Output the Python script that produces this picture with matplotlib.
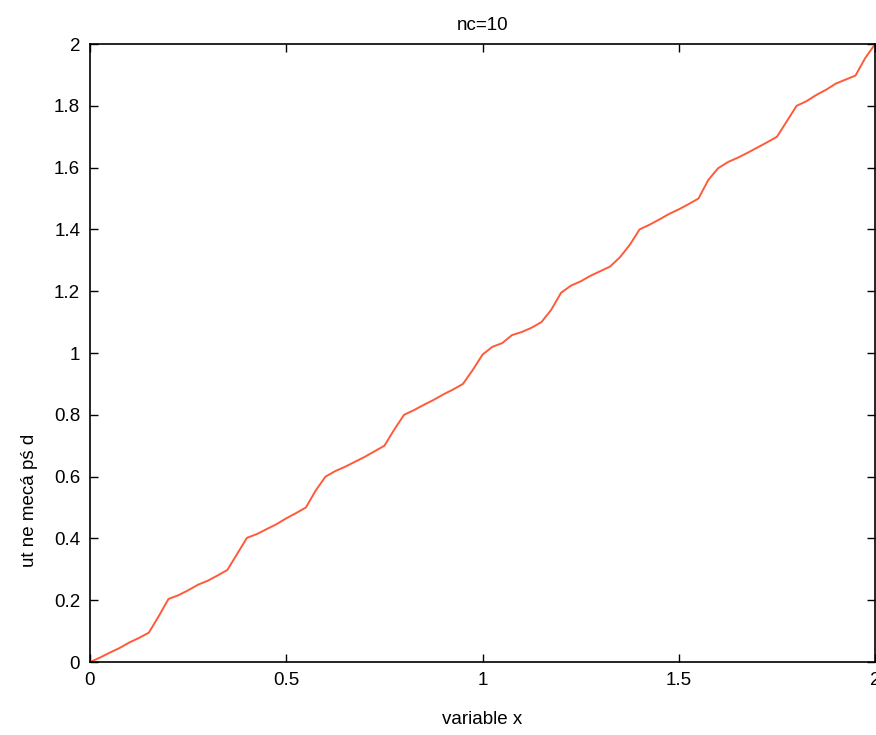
import numpy as np
import matplotlib.pyplot as plt

# values
x_vals = [0.000, 0.025, 0.050, 0.075, 0.100, 0.125, 0.150, 0.175, 0.200,
          0.225, 0.250, 0.275, 0.300, 0.325, 0.350, 0.375, 0.400,
          0.425, 0.450, 0.475, 0.500, 0.525, 0.550, 0.575, 0.600,
          0.625, 0.650, 0.675, 0.700, 0.725, 0.750, 0.775, 0.800,
          0.825, 0.850, 0.875, 0.900, 0.925, 0.950, 0.975, 1.000,
          1.025, 1.050, 1.075, 1.100, 1.125, 1.150, 1.175, 1.200,
          1.225, 1.250, 1.275, 1.300, 1.325, 1.350, 1.375, 1.400,
          1.425, 1.450, 1.475, 1.500, 1.525, 1.550, 1.575, 1.600,
          1.625, 1.650, 1.675, 1.700, 1.725, 1.750, 1.775, 1.800,
          1.825, 1.850, 1.875, 1.900, 1.925, 1.950, 1.975, 2.000]
y_vals = [0.000, 0.014, 0.030, 0.045, 0.063, 0.078, 0.095, 0.148, 0.204,
          0.216, 0.232, 0.250, 0.263, 0.280, 0.298, 0.350, 0.402,
          0.414, 0.430, 0.446, 0.465, 0.482, 0.500, 0.555, 0.600,
          0.618, 0.632, 0.648, 0.664, 0.682, 0.700, 0.752, 0.800,
          0.815, 0.832, 0.848, 0.866, 0.882, 0.900, 0.945, 0.995,
          1.020, 1.032, 1.058, 1.068, 1.082, 1.100, 1.140, 1.195,
          1.218, 1.232, 1.250, 1.265, 1.280, 1.310, 1.350, 1.400,
          1.415, 1.432, 1.450, 1.465, 1.482, 1.500, 1.560, 1.598,
          1.618, 1.632, 1.648, 1.665, 1.682, 1.700, 1.750, 1.800,
          1.815, 1.835, 1.852, 1.872, 1.885, 1.898, 1.955, 2.000]

x_ticks = [0, 0.5, 1, 1.5, 2]
x_ticklabels = ['0', '0.5', '1', '1.5', '2']
y_ticks = [0, 0.2, 0.4, 0.6, 0.8, 1, 1.2, 1.4, 1.6, 1.8, 2]
y_ticklabels = ['0', '0.2', '0.4', '0.6', '0.8', '1', '1.2', '1.4', '1.6', '1.8', '2']

plt.rcParams['font.family'] = ['Liberation Sans', 'DejaVu Sans']

fig = plt.figure(figsize=(8.76, 7.35), dpi=100)
ax = fig.add_axes([0.1027, 0.0993, 0.8963, 0.8408])

ax.plot(x_vals, y_vals, color='#ff5a3a', linewidth=1.4)

ax.set_xlim(0, 2)
ax.set_ylim(0, 2)
ax.set_xticks(x_ticks)
ax.set_xticklabels(x_ticklabels)
ax.set_yticks(y_ticks)
ax.set_yticklabels(y_ticklabels)
ax.tick_params(direction='in', top=True, right=True, length=6, width=1,
               labelsize=13.5, pad=7, colors='black')
for s in ax.spines.values():
    s.set_linewidth(1.2)

ax.set_title('nc=10', fontsize=13.5, pad=10)
ax.set_xlabel('variable x', fontsize=13.5, labelpad=16)
ax.set_ylabel('ut ne mecá pś d', fontsize=13.5)
# the label sits low on the left side in the original
ax.yaxis.set_label_coords(-0.066, 0.262)

fig.savefig('out.png', dpi=100)
